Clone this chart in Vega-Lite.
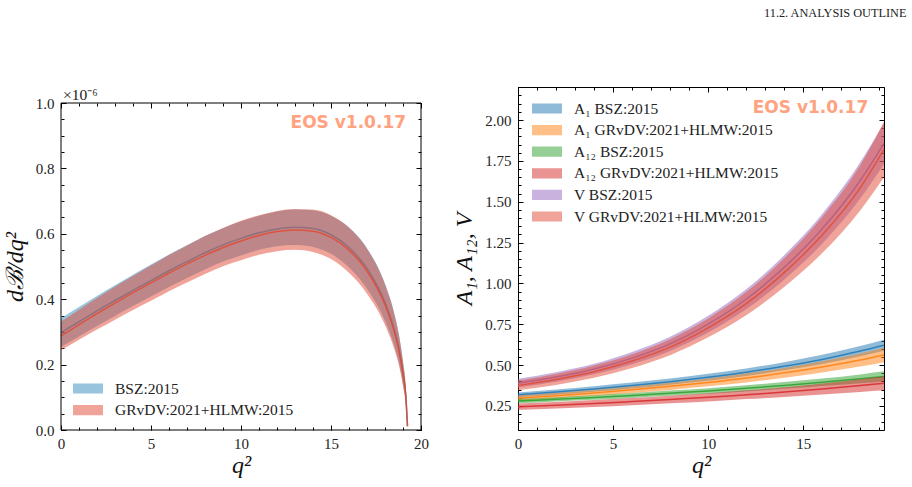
{
  "$schema": "https://vega.github.io/schema/vega-lite/v6.json",
  "padding": {"left": 3, "top": 6, "right": 4, "bottom": 4},
  "background": "white",
  "title": {"text": "11.2.  ANALYSIS OUTLINE", "anchor": "end", "font": "Liberation Serif", "fontSize": 12.3, "fontWeight": "normal", "color": "#222", "offset": 67, "dx": 19},
  "resolve": {"scale": {"color": "independent"}, "legend": {"color": "independent"}},
  "columns": 2,
  "spacing": 23,
  "datasets": {
    "dBdq2": [
      {"s": "BSZ:2015", "q2": 0, "lo": 0.254, "c": 0.298, "hi": 0.342},
      {"s": "BSZ:2015", "q2": 1, "lo": 0.286, "c": 0.331, "hi": 0.376},
      {"s": "BSZ:2015", "q2": 2, "lo": 0.318, "c": 0.364, "hi": 0.410},
      {"s": "BSZ:2015", "q2": 3, "lo": 0.349, "c": 0.396, "hi": 0.443},
      {"s": "BSZ:2015", "q2": 4, "lo": 0.379, "c": 0.427, "hi": 0.475},
      {"s": "BSZ:2015", "q2": 5, "lo": 0.408, "c": 0.457, "hi": 0.506},
      {"s": "BSZ:2015", "q2": 6, "lo": 0.437, "c": 0.487, "hi": 0.537},
      {"s": "BSZ:2015", "q2": 7, "lo": 0.465, "c": 0.515, "hi": 0.565},
      {"s": "BSZ:2015", "q2": 8, "lo": 0.491, "c": 0.542, "hi": 0.593},
      {"s": "BSZ:2015", "q2": 9, "lo": 0.515, "c": 0.566, "hi": 0.617},
      {"s": "BSZ:2015", "q2": 10, "lo": 0.534, "c": 0.586, "hi": 0.638},
      {"s": "BSZ:2015", "q2": 11, "lo": 0.551, "c": 0.603, "hi": 0.655},
      {"s": "BSZ:2015", "q2": 12, "lo": 0.562, "c": 0.615, "hi": 0.668},
      {"s": "BSZ:2015", "q2": 13, "lo": 0.566, "c": 0.620, "hi": 0.674},
      {"s": "BSZ:2015", "q2": 14, "lo": 0.560, "c": 0.616, "hi": 0.672},
      {"s": "BSZ:2015", "q2": 15, "lo": 0.539, "c": 0.597, "hi": 0.655},
      {"s": "BSZ:2015", "q2": 16, "lo": 0.497, "c": 0.558, "hi": 0.619},
      {"s": "BSZ:2015", "q2": 17, "lo": 0.432, "c": 0.494, "hi": 0.556},
      {"s": "BSZ:2015", "q2": 18, "lo": 0.333, "c": 0.390, "hi": 0.447},
      {"s": "BSZ:2015", "q2": 18.5, "lo": 0.260, "c": 0.310, "hi": 0.360},
      {"s": "BSZ:2015", "q2": 18.75, "lo": 0.211, "c": 0.255, "hi": 0.299},
      {"s": "BSZ:2015", "q2": 19, "lo": 0.140, "c": 0.175, "hi": 0.210},
      {"s": "BSZ:2015", "q2": 19.15, "lo": 0.085, "c": 0.110, "hi": 0.135},
      {"s": "BSZ:2015", "q2": 19.25, "lo": 0.008, "c": 0.012, "hi": 0.016},
      {"s": "GRvDV:2021+HLMW:2015", "q2": 0, "lo": 0.244, "c": 0.288, "hi": 0.332},
      {"s": "GRvDV:2021+HLMW:2015", "q2": 1, "lo": 0.276, "c": 0.322, "hi": 0.368},
      {"s": "GRvDV:2021+HLMW:2015", "q2": 2, "lo": 0.307, "c": 0.356, "hi": 0.404},
      {"s": "GRvDV:2021+HLMW:2015", "q2": 3, "lo": 0.337, "c": 0.388, "hi": 0.438},
      {"s": "GRvDV:2021+HLMW:2015", "q2": 4, "lo": 0.367, "c": 0.420, "hi": 0.471},
      {"s": "GRvDV:2021+HLMW:2015", "q2": 5, "lo": 0.395, "c": 0.450, "hi": 0.503},
      {"s": "GRvDV:2021+HLMW:2015", "q2": 6, "lo": 0.424, "c": 0.480, "hi": 0.535},
      {"s": "GRvDV:2021+HLMW:2015", "q2": 7, "lo": 0.451, "c": 0.508, "hi": 0.564},
      {"s": "GRvDV:2021+HLMW:2015", "q2": 8, "lo": 0.477, "c": 0.534, "hi": 0.593},
      {"s": "GRvDV:2021+HLMW:2015", "q2": 9, "lo": 0.501, "c": 0.558, "hi": 0.618},
      {"s": "GRvDV:2021+HLMW:2015", "q2": 10, "lo": 0.519, "c": 0.578, "hi": 0.640},
      {"s": "GRvDV:2021+HLMW:2015", "q2": 11, "lo": 0.536, "c": 0.595, "hi": 0.657},
      {"s": "GRvDV:2021+HLMW:2015", "q2": 12, "lo": 0.547, "c": 0.607, "hi": 0.670},
      {"s": "GRvDV:2021+HLMW:2015", "q2": 13, "lo": 0.551, "c": 0.612, "hi": 0.676},
      {"s": "GRvDV:2021+HLMW:2015", "q2": 14, "lo": 0.544, "c": 0.608, "hi": 0.674},
      {"s": "GRvDV:2021+HLMW:2015", "q2": 15, "lo": 0.523, "c": 0.589, "hi": 0.657},
      {"s": "GRvDV:2021+HLMW:2015", "q2": 16, "lo": 0.481, "c": 0.550, "hi": 0.619},
      {"s": "GRvDV:2021+HLMW:2015", "q2": 17, "lo": 0.417, "c": 0.486, "hi": 0.554},
      {"s": "GRvDV:2021+HLMW:2015", "q2": 18, "lo": 0.321, "c": 0.383, "hi": 0.445},
      {"s": "GRvDV:2021+HLMW:2015", "q2": 18.5, "lo": 0.250, "c": 0.304, "hi": 0.358},
      {"s": "GRvDV:2021+HLMW:2015", "q2": 18.75, "lo": 0.203, "c": 0.250, "hi": 0.297},
      {"s": "GRvDV:2021+HLMW:2015", "q2": 19, "lo": 0.134, "c": 0.171, "hi": 0.208},
      {"s": "GRvDV:2021+HLMW:2015", "q2": 19.15, "lo": 0.081, "c": 0.107, "hi": 0.134},
      {"s": "GRvDV:2021+HLMW:2015", "q2": 19.25, "lo": 0.007, "c": 0.011, "hi": 0.015}
    ],
    "formfactors": [
      {"s": "A₁ BSZ:2015", "q2": 0, "lo": 0.303, "c": 0.318, "hi": 0.333},
      {"s": "A₁ BSZ:2015", "q2": 2, "lo": 0.319, "c": 0.335, "hi": 0.351},
      {"s": "A₁ BSZ:2015", "q2": 4, "lo": 0.337, "c": 0.354, "hi": 0.371},
      {"s": "A₁ BSZ:2015", "q2": 6, "lo": 0.357, "c": 0.375, "hi": 0.393},
      {"s": "A₁ BSZ:2015", "q2": 8, "lo": 0.380, "c": 0.399, "hi": 0.418},
      {"s": "A₁ BSZ:2015", "q2": 10, "lo": 0.405, "c": 0.426, "hi": 0.447},
      {"s": "A₁ BSZ:2015", "q2": 12, "lo": 0.434, "c": 0.457, "hi": 0.480},
      {"s": "A₁ BSZ:2015", "q2": 14, "lo": 0.468, "c": 0.493, "hi": 0.518},
      {"s": "A₁ BSZ:2015", "q2": 16, "lo": 0.507, "c": 0.535, "hi": 0.563},
      {"s": "A₁ BSZ:2015", "q2": 18, "lo": 0.555, "c": 0.586, "hi": 0.617},
      {"s": "A₁ BSZ:2015", "q2": 19.25, "lo": 0.588, "c": 0.622, "hi": 0.656},
      {"s": "A₁ GRvDV:2021+HLMW:2015", "q2": 0, "lo": 0.282, "c": 0.298, "hi": 0.314},
      {"s": "A₁ GRvDV:2021+HLMW:2015", "q2": 2, "lo": 0.296, "c": 0.313, "hi": 0.330},
      {"s": "A₁ GRvDV:2021+HLMW:2015", "q2": 4, "lo": 0.312, "c": 0.330, "hi": 0.348},
      {"s": "A₁ GRvDV:2021+HLMW:2015", "q2": 6, "lo": 0.329, "c": 0.349, "hi": 0.369},
      {"s": "A₁ GRvDV:2021+HLMW:2015", "q2": 8, "lo": 0.348, "c": 0.370, "hi": 0.392},
      {"s": "A₁ GRvDV:2021+HLMW:2015", "q2": 10, "lo": 0.370, "c": 0.394, "hi": 0.418},
      {"s": "A₁ GRvDV:2021+HLMW:2015", "q2": 12, "lo": 0.394, "c": 0.421, "hi": 0.448},
      {"s": "A₁ GRvDV:2021+HLMW:2015", "q2": 14, "lo": 0.423, "c": 0.453, "hi": 0.483},
      {"s": "A₁ GRvDV:2021+HLMW:2015", "q2": 16, "lo": 0.455, "c": 0.489, "hi": 0.523},
      {"s": "A₁ GRvDV:2021+HLMW:2015", "q2": 18, "lo": 0.491, "c": 0.531, "hi": 0.571},
      {"s": "A₁ GRvDV:2021+HLMW:2015", "q2": 19.25, "lo": 0.518, "c": 0.562, "hi": 0.606},
      {"s": "A₁₂ BSZ:2015", "q2": 0, "lo": 0.267, "c": 0.280, "hi": 0.293},
      {"s": "A₁₂ BSZ:2015", "q2": 2, "lo": 0.278, "c": 0.291, "hi": 0.304},
      {"s": "A₁₂ BSZ:2015", "q2": 4, "lo": 0.288, "c": 0.302, "hi": 0.316},
      {"s": "A₁₂ BSZ:2015", "q2": 6, "lo": 0.299, "c": 0.314, "hi": 0.329},
      {"s": "A₁₂ BSZ:2015", "q2": 8, "lo": 0.312, "c": 0.328, "hi": 0.344},
      {"s": "A₁₂ BSZ:2015", "q2": 10, "lo": 0.325, "c": 0.342, "hi": 0.359},
      {"s": "A₁₂ BSZ:2015", "q2": 12, "lo": 0.339, "c": 0.358, "hi": 0.377},
      {"s": "A₁₂ BSZ:2015", "q2": 14, "lo": 0.355, "c": 0.376, "hi": 0.397},
      {"s": "A₁₂ BSZ:2015", "q2": 16, "lo": 0.372, "c": 0.395, "hi": 0.418},
      {"s": "A₁₂ BSZ:2015", "q2": 18, "lo": 0.389, "c": 0.416, "hi": 0.443},
      {"s": "A₁₂ BSZ:2015", "q2": 19.25, "lo": 0.400, "c": 0.431, "hi": 0.462},
      {"s": "A₁₂ GRvDV:2021+HLMW:2015", "q2": 0, "lo": 0.225, "c": 0.245, "hi": 0.265},
      {"s": "A₁₂ GRvDV:2021+HLMW:2015", "q2": 2, "lo": 0.235, "c": 0.255, "hi": 0.275},
      {"s": "A₁₂ GRvDV:2021+HLMW:2015", "q2": 4, "lo": 0.244, "c": 0.265, "hi": 0.286},
      {"s": "A₁₂ GRvDV:2021+HLMW:2015", "q2": 6, "lo": 0.255, "c": 0.277, "hi": 0.299},
      {"s": "A₁₂ GRvDV:2021+HLMW:2015", "q2": 8, "lo": 0.267, "c": 0.290, "hi": 0.313},
      {"s": "A₁₂ GRvDV:2021+HLMW:2015", "q2": 10, "lo": 0.278, "c": 0.303, "hi": 0.328},
      {"s": "A₁₂ GRvDV:2021+HLMW:2015", "q2": 12, "lo": 0.292, "c": 0.319, "hi": 0.346},
      {"s": "A₁₂ GRvDV:2021+HLMW:2015", "q2": 14, "lo": 0.305, "c": 0.335, "hi": 0.365},
      {"s": "A₁₂ GRvDV:2021+HLMW:2015", "q2": 16, "lo": 0.320, "c": 0.354, "hi": 0.388},
      {"s": "A₁₂ GRvDV:2021+HLMW:2015", "q2": 18, "lo": 0.336, "c": 0.375, "hi": 0.414},
      {"s": "A₁₂ GRvDV:2021+HLMW:2015", "q2": 19.25, "lo": 0.346, "c": 0.389, "hi": 0.432},
      {"s": "V BSZ:2015", "q2": 0, "lo": 0.363, "c": 0.390, "hi": 0.417},
      {"s": "V BSZ:2015", "q2": 2, "lo": 0.398, "c": 0.427, "hi": 0.456},
      {"s": "V BSZ:2015", "q2": 4, "lo": 0.444, "c": 0.476, "hi": 0.508},
      {"s": "V BSZ:2015", "q2": 6, "lo": 0.506, "c": 0.543, "hi": 0.580},
      {"s": "V BSZ:2015", "q2": 8, "lo": 0.587, "c": 0.630, "hi": 0.673},
      {"s": "V BSZ:2015", "q2": 10, "lo": 0.700, "c": 0.751, "hi": 0.802},
      {"s": "V BSZ:2015", "q2": 12, "lo": 0.842, "c": 0.903, "hi": 0.964},
      {"s": "V BSZ:2015", "q2": 14, "lo": 1.023, "c": 1.098, "hi": 1.173},
      {"s": "V BSZ:2015", "q2": 16, "lo": 1.243, "c": 1.334, "hi": 1.425},
      {"s": "V BSZ:2015", "q2": 18, "lo": 1.519, "c": 1.630, "hi": 1.741},
      {"s": "V BSZ:2015", "q2": 19.25, "lo": 1.731, "c": 1.857, "hi": 1.983},
      {"s": "V GRvDV:2021+HLMW:2015", "q2": 0, "lo": 0.346, "c": 0.376, "hi": 0.406},
      {"s": "V GRvDV:2021+HLMW:2015", "q2": 2, "lo": 0.379, "c": 0.412, "hi": 0.445},
      {"s": "V GRvDV:2021+HLMW:2015", "q2": 4, "lo": 0.423, "c": 0.460, "hi": 0.497},
      {"s": "V GRvDV:2021+HLMW:2015", "q2": 6, "lo": 0.483, "c": 0.525, "hi": 0.567},
      {"s": "V GRvDV:2021+HLMW:2015", "q2": 8, "lo": 0.561, "c": 0.610, "hi": 0.659},
      {"s": "V GRvDV:2021+HLMW:2015", "q2": 10, "lo": 0.670, "c": 0.728, "hi": 0.786},
      {"s": "V GRvDV:2021+HLMW:2015", "q2": 12, "lo": 0.805, "c": 0.876, "hi": 0.947},
      {"s": "V GRvDV:2021+HLMW:2015", "q2": 14, "lo": 0.978, "c": 1.066, "hi": 1.154},
      {"s": "V GRvDV:2021+HLMW:2015", "q2": 16, "lo": 1.186, "c": 1.296, "hi": 1.406},
      {"s": "V GRvDV:2021+HLMW:2015", "q2": 18, "lo": 1.447, "c": 1.585, "hi": 1.723},
      {"s": "V GRvDV:2021+HLMW:2015", "q2": 19.25, "lo": 1.650, "c": 1.820, "hi": 1.990}
    ]
  },
  "concat": [
    {
      "width": 360,
      "height": 343,
      "view": {"stroke": null},
      "resolve": {"axis": {"x": "independent", "y": "independent"}},
      "layer": [
        {
          "data": {"name": "dBdq2"},
          "transform": [{"filter": {"field": "s", "equal": "BSZ:2015"}}],
          "mark": {"type": "area", "interpolate": "monotone", "opacity": 0.5, "strokeWidth": 1},
          "encoding": {
            "x": {"field": "q2", "type": "quantitative", "scale": {"domain": [0, 20], "nice": false, "zero": false},
                  "axis": {"orient": "bottom", "values": [0, 5, 10, 15, 20], "offset": -5, "tickSize": 5, "labelPadding": 6, "title": "q²", "titlePadding": 2}},
            "y": {"field": "lo", "type": "quantitative", "scale": {"domain": [0, 1], "range": [343, 16], "nice": false, "zero": false},
                  "axis": {"orient": "left", "values": [0, 0.2, 0.4, 0.6, 0.8, 1], "format": ".1f", "offset": -5, "tickSize": 5, "labelPadding": 7, "title": "dℬ/dq²", "titlePadding": 8}},
            "y2": {"field": "hi"},
            "color": {"field": "s", "type": "nominal",
                      "scale": {"domain": ["BSZ:2015", "GRvDV:2021+HLMW:2015"], "range": ["#348abd", "#e24a33"]},
                      "legend": {"orient": "bottom-left", "offset": 11.5, "title": null, "padding": 0, "labelLimit": 0, "clipHeight": 15,
                                 "symbolType": "M-1,-0.34H1V0.34H-1Z", "symbolSize": 900, "symbolOpacity": 0.5, "symbolStrokeWidth": 0,
                                 "labelFont": "Liberation Serif", "labelFontSize": 15.5, "labelColor": "#222", "labelOffset": 12, "rowPadding": 5.6}}
          }
        },
        {
          "data": {"name": "dBdq2"},
          "transform": [{"filter": {"field": "s", "equal": "BSZ:2015"}}],
          "mark": {"type": "line", "interpolate": "monotone", "strokeWidth": 1.5, "opacity": 0.85},
          "encoding": {
            "x": {"field": "q2", "type": "quantitative",
                  "axis": {"orient": "bottom", "values": [0,1,2,3,4,5,6,7,8,9,10,11,12,13,14,15,16,17,18,19,20], "offset": -3, "tickSize": 3, "labels": false, "title": null}},
            "y": {"field": "c", "type": "quantitative",
                  "axis": {"orient": "left", "values": [0,0.05,0.1,0.15,0.2,0.25,0.3,0.35,0.4,0.45,0.5,0.55,0.6,0.65,0.7,0.75,0.8,0.85,0.9,0.95,1], "offset": -3, "tickSize": 3, "labels": false, "title": null}},
            "color": {"field": "s", "type": "nominal", "legend": null}
          }
        },
        {
          "data": {"name": "dBdq2"},
          "transform": [{"filter": {"field": "s", "equal": "GRvDV:2021+HLMW:2015"}}],
          "mark": {"type": "area", "interpolate": "monotone", "opacity": 0.5, "strokeWidth": 1},
          "encoding": {
            "x": {"field": "q2", "type": "quantitative",
                  "axis": {"orient": "top", "values": [0, 5, 10, 15, 20], "offset": -21, "tickSize": 5, "labels": false, "title": null}},
            "y": {"field": "lo", "type": "quantitative",
                  "axis": {"orient": "right", "values": [0, 0.2, 0.4, 0.6, 0.8, 1], "offset": -5, "tickSize": 5, "labels": false, "title": null}},
            "y2": {"field": "hi"},
            "color": {"field": "s", "type": "nominal", "legend": null}
          }
        },
        {
          "data": {"name": "dBdq2"},
          "transform": [{"filter": {"field": "s", "equal": "GRvDV:2021+HLMW:2015"}}],
          "mark": {"type": "line", "interpolate": "monotone", "strokeWidth": 1.5, "opacity": 0.85},
          "encoding": {
            "x": {"field": "q2", "type": "quantitative",
                  "axis": {"orient": "top", "values": [0,1,2,3,4,5,6,7,8,9,10,11,12,13,14,15,16,17,18,19,20], "offset": -19, "tickSize": 3, "labels": false, "title": null}},
            "y": {"field": "c", "type": "quantitative",
                  "axis": {"orient": "right", "values": [0,0.05,0.1,0.15,0.2,0.25,0.3,0.35,0.4,0.45,0.5,0.55,0.6,0.65,0.7,0.75,0.8,0.85,0.9,0.95,1], "offset": -3, "tickSize": 3, "labels": false, "title": null}},
            "color": {"field": "s", "type": "nominal", "legend": null}
          }
        },
        {
          "data": {"values": [{}]},
          "mark": {"type": "rect", "fillOpacity": 0, "stroke": "#000", "strokeWidth": 1},
          "encoding": {
            "x": {"datum": 0, "type": "quantitative", "axis": null},
            "x2": {"datum": 20},
            "y": {"datum": 0, "type": "quantitative", "axis": null},
            "y2": {"datum": 1}
          }
        },
        {
          "data": {"values": [{"label": "×10⁻⁶"}]},
          "mark": {"type": "text", "align": "left", "baseline": "alphabetic", "dx": 2, "dy": -3, "font": "Liberation Serif", "fontSize": 15.5, "color": "#222"},
          "encoding": {
            "x": {"datum": 0, "type": "quantitative", "axis": null},
            "y": {"datum": 1, "type": "quantitative", "axis": null},
            "text": {"field": "label"}
          }
        },
        {
          "data": {"values": [{"label": "EOS v1.0.17"}]},
          "mark": {"type": "text", "align": "right", "baseline": "middle", "font": "DejaVu Sans", "fontWeight": "bold", "fontSize": 17, "color": "#ffa280"},
          "encoding": {
            "x": {"datum": 19.17, "type": "quantitative", "axis": null},
            "y": {"datum": 0.939, "type": "quantitative", "axis": null},
            "text": {"field": "label"}
          }
        }
      ]
    },
    {
      "width": 366,
      "height": 343,
      "resolve": {"axis": {"x": "independent", "y": "independent"}},
      "layer": [
        {
          "data": {"name": "formfactors"},
          "transform": [{"filter": {"field": "s", "equal": "A₁ BSZ:2015"}}],
          "mark": {"type": "area", "interpolate": "monotone", "opacity": 0.5, "strokeWidth": 1},
          "encoding": {
            "x": {"field": "q2", "type": "quantitative", "scale": {"domain": [0, 19.25], "nice": false, "zero": false},
                  "axis": {"orient": "bottom", "values": [0, 5, 10, 15], "offset": -5, "tickSize": 5, "labelPadding": 6, "title": "q²", "titlePadding": 2}},
            "y": {"field": "lo", "type": "quantitative", "scale": {"domain": [0.103, 2.202], "nice": false, "zero": false},
                  "axis": {"orient": "left", "values": [0.25, 0.5, 0.75, 1, 1.25, 1.5, 1.75, 2], "format": ".2f", "offset": -5, "tickSize": 5, "labelPadding": 7, "title": "A₁, A₁₂, V", "titlePadding": 8}},
            "y2": {"field": "hi"},
            "color": {"field": "s", "type": "nominal",
                      "scale": {"domain": ["A₁ BSZ:2015", "A₁ GRvDV:2021+HLMW:2015", "A₁₂ BSZ:2015", "A₁₂ GRvDV:2021+HLMW:2015", "V BSZ:2015", "V GRvDV:2021+HLMW:2015"],
                                "range": ["#1f77b4", "#ff7f0e", "#2ca02c", "#d62728", "#9467bd", "#e24a33"]},
                      "legend": {"orient": "top-left", "offset": 13.5, "title": null, "padding": 0, "labelLimit": 0, "clipHeight": 15,
                                 "symbolType": "M-1,-0.34H1V0.34H-1Z", "symbolSize": 900, "symbolOpacity": 0.5, "symbolStrokeWidth": 0,
                                 "labelFont": "Liberation Serif", "labelFontSize": 15.5, "labelColor": "#222", "labelOffset": 12, "rowPadding": 5.6}}
          }
        },
        {
          "data": {"name": "formfactors"},
          "transform": [{"filter": {"field": "s", "equal": "A₁ BSZ:2015"}}],
          "mark": {"type": "line", "interpolate": "monotone", "strokeWidth": 1.5, "opacity": 0.85},
          "encoding": {
            "x": {"field": "q2", "type": "quantitative",
                  "axis": {"orient": "bottom", "values": [0,1,2,3,4,5,6,7,8,9,10,11,12,13,14,15,16,17,18,19], "offset": -3, "tickSize": 3, "labels": false, "title": null}},
            "y": {"field": "c", "type": "quantitative",
                  "axis": {"orient": "left", "values": [0.15,0.2,0.25,0.3,0.35,0.4,0.45,0.5,0.55,0.6,0.65,0.7,0.75,0.8,0.85,0.9,0.95,1,1.05,1.1,1.15,1.2,1.25,1.3,1.35,1.4,1.45,1.5,1.55,1.6,1.65,1.7,1.75,1.8,1.85,1.9,1.95,2,2.05,2.1,2.15,2.2], "offset": -3, "tickSize": 3, "labels": false, "title": null}},
            "color": {"field": "s", "type": "nominal", "legend": null}
          }
        },
        {
          "data": {"name": "formfactors"},
          "transform": [{"filter": {"field": "s", "equal": "A₁ GRvDV:2021+HLMW:2015"}}],
          "mark": {"type": "area", "interpolate": "monotone", "opacity": 0.5, "strokeWidth": 1},
          "encoding": {
            "x": {"field": "q2", "type": "quantitative",
                  "axis": {"orient": "top", "values": [0, 5, 10, 15], "offset": -5, "tickSize": 5, "labels": false, "title": null}},
            "y": {"field": "lo", "type": "quantitative",
                  "axis": {"orient": "right", "values": [0.25, 0.5, 0.75, 1, 1.25, 1.5, 1.75, 2], "offset": -5, "tickSize": 5, "labels": false, "title": null}},
            "y2": {"field": "hi"},
            "color": {"field": "s", "type": "nominal", "legend": null}
          }
        },
        {
          "data": {"name": "formfactors"},
          "transform": [{"filter": {"field": "s", "equal": "A₁ GRvDV:2021+HLMW:2015"}}],
          "mark": {"type": "line", "interpolate": "monotone", "strokeWidth": 1.5, "opacity": 0.85},
          "encoding": {
            "x": {"field": "q2", "type": "quantitative",
                  "axis": {"orient": "top", "values": [0,1,2,3,4,5,6,7,8,9,10,11,12,13,14,15,16,17,18,19], "offset": -3, "tickSize": 3, "labels": false, "title": null}},
            "y": {"field": "c", "type": "quantitative",
                  "axis": {"orient": "right", "values": [0.15,0.2,0.25,0.3,0.35,0.4,0.45,0.5,0.55,0.6,0.65,0.7,0.75,0.8,0.85,0.9,0.95,1,1.05,1.1,1.15,1.2,1.25,1.3,1.35,1.4,1.45,1.5,1.55,1.6,1.65,1.7,1.75,1.8,1.85,1.9,1.95,2,2.05,2.1,2.15,2.2], "offset": -3, "tickSize": 3, "labels": false, "title": null}},
            "color": {"field": "s", "type": "nominal", "legend": null}
          }
        },
        {
          "data": {"name": "formfactors"},
          "transform": [{"filter": {"field": "s", "equal": "A₁₂ BSZ:2015"}}],
          "mark": {"type": "area", "interpolate": "monotone", "opacity": 0.5, "strokeWidth": 1},
          "encoding": {"x": {"field": "q2", "type": "quantitative", "axis": null}, "y": {"field": "lo", "type": "quantitative", "axis": null}, "y2": {"field": "hi"}, "color": {"field": "s", "type": "nominal", "legend": null}}
        },
        {
          "data": {"name": "formfactors"},
          "transform": [{"filter": {"field": "s", "equal": "A₁₂ BSZ:2015"}}],
          "mark": {"type": "line", "interpolate": "monotone", "strokeWidth": 1.5, "opacity": 0.85},
          "encoding": {"x": {"field": "q2", "type": "quantitative", "axis": null}, "y": {"field": "c", "type": "quantitative", "axis": null}, "color": {"field": "s", "type": "nominal", "legend": null}}
        },
        {
          "data": {"name": "formfactors"},
          "transform": [{"filter": {"field": "s", "equal": "A₁₂ GRvDV:2021+HLMW:2015"}}],
          "mark": {"type": "area", "interpolate": "monotone", "opacity": 0.5, "strokeWidth": 1},
          "encoding": {"x": {"field": "q2", "type": "quantitative", "axis": null}, "y": {"field": "lo", "type": "quantitative", "axis": null}, "y2": {"field": "hi"}, "color": {"field": "s", "type": "nominal", "legend": null}}
        },
        {
          "data": {"name": "formfactors"},
          "transform": [{"filter": {"field": "s", "equal": "A₁₂ GRvDV:2021+HLMW:2015"}}],
          "mark": {"type": "line", "interpolate": "monotone", "strokeWidth": 1.5, "opacity": 0.85},
          "encoding": {"x": {"field": "q2", "type": "quantitative", "axis": null}, "y": {"field": "c", "type": "quantitative", "axis": null}, "color": {"field": "s", "type": "nominal", "legend": null}}
        },
        {
          "data": {"name": "formfactors"},
          "transform": [{"filter": {"field": "s", "equal": "V BSZ:2015"}}],
          "mark": {"type": "area", "interpolate": "monotone", "opacity": 0.5, "strokeWidth": 1},
          "encoding": {"x": {"field": "q2", "type": "quantitative", "axis": null}, "y": {"field": "lo", "type": "quantitative", "axis": null}, "y2": {"field": "hi"}, "color": {"field": "s", "type": "nominal", "legend": null}}
        },
        {
          "data": {"name": "formfactors"},
          "transform": [{"filter": {"field": "s", "equal": "V BSZ:2015"}}],
          "mark": {"type": "line", "interpolate": "monotone", "strokeWidth": 1.5, "opacity": 0.85},
          "encoding": {"x": {"field": "q2", "type": "quantitative", "axis": null}, "y": {"field": "c", "type": "quantitative", "axis": null}, "color": {"field": "s", "type": "nominal", "legend": null}}
        },
        {
          "data": {"name": "formfactors"},
          "transform": [{"filter": {"field": "s", "equal": "V GRvDV:2021+HLMW:2015"}}],
          "mark": {"type": "area", "interpolate": "monotone", "opacity": 0.5, "strokeWidth": 1},
          "encoding": {"x": {"field": "q2", "type": "quantitative", "axis": null}, "y": {"field": "lo", "type": "quantitative", "axis": null}, "y2": {"field": "hi"}, "color": {"field": "s", "type": "nominal", "legend": null}}
        },
        {
          "data": {"name": "formfactors"},
          "transform": [{"filter": {"field": "s", "equal": "V GRvDV:2021+HLMW:2015"}}],
          "mark": {"type": "line", "interpolate": "monotone", "strokeWidth": 1.5, "opacity": 0.85},
          "encoding": {"x": {"field": "q2", "type": "quantitative", "axis": null}, "y": {"field": "c", "type": "quantitative", "axis": null}, "color": {"field": "s", "type": "nominal", "legend": null}}
        },
        {
          "data": {"values": [{"label": "EOS v1.0.17"}]},
          "mark": {"type": "text", "align": "right", "baseline": "middle", "font": "DejaVu Sans", "fontWeight": "bold", "fontSize": 17, "color": "#ffa280"},
          "encoding": {
            "x": {"datum": 18.42, "type": "quantitative", "axis": null},
            "y": {"datum": 2.074, "type": "quantitative", "axis": null},
            "text": {"field": "label"}
          }
        }
      ]
    }
  ],
  "config": {
    "view": {"stroke": "#000", "strokeWidth": 1},
    "axis": {"grid": false, "domain": false, "tickColor": "#000", "tickWidth": 1,
             "labelFont": "Liberation Serif", "labelFontSize": 15, "labelColor": "#222",
             "labelFlush": false, "labelOverlap": false,
             "titleFont": "Liberation Serif", "titleFontStyle": "italic", "titleFontWeight": "normal", "titleFontSize": 24, "titleColor": "#111"}
  }
}
